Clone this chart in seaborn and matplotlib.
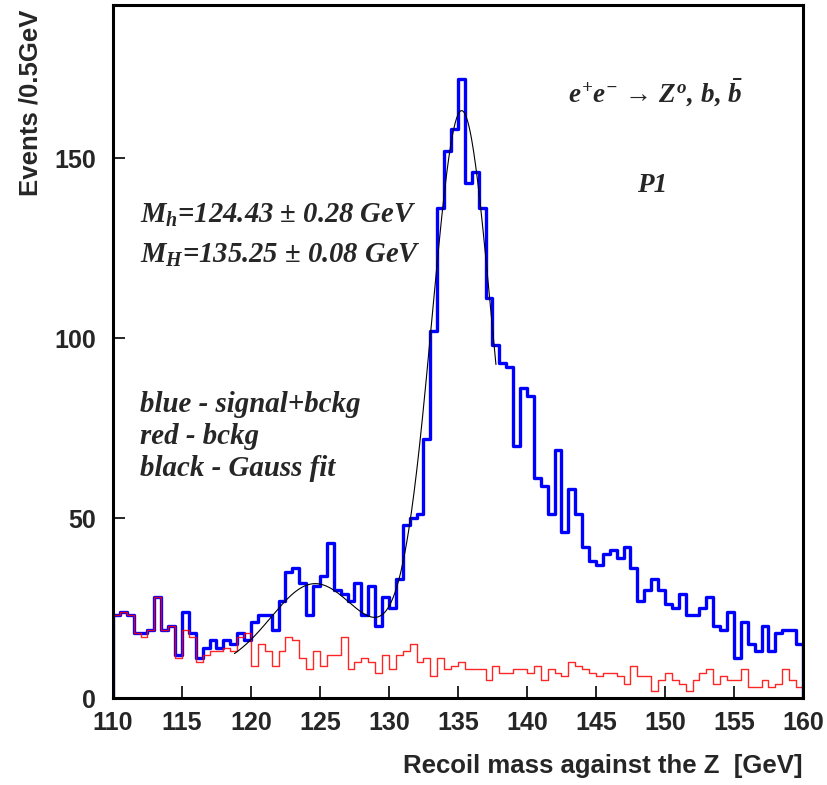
import numpy as np
import pandas as pd
import matplotlib
matplotlib.use("Agg")
import matplotlib.pyplot as plt
import seaborn as sns

# ---------------- data ----------------
bin_lo = 110.0
bin_hi = 160.0
bin_width = 0.5
n_bins = 100

signal_bckg = [23, 24, 23, 18, 18, 19, 28, 19, 20, 12,
               24, 18, 11, 14, 16, 14, 16, 15, 18, 16,
               21, 23, 23, 19, 27, 35, 36, 32, 23, 31,
               34, 43, 30, 29, 27, 32, 23, 31, 20, 28,
               25, 33, 48, 50, 51, 72, 102, 136, 152, 158,
               172, 143, 146, 136, 111, 98, 93, 92, 70, 86,
               84, 61, 59, 51, 69, 46, 58, 51, 42, 38,
               37, 40, 41, 39, 42, 36, 27, 30, 33, 30,
               26, 25, 29, 23, 23, 25, 28, 20, 19, 24,
               11, 21, 15, 13, 20, 13, 18, 19, 19, 15]

bckg = [23, 24, 23, 18, 17, 19, 28, 19, 20, 11,
        19, 17, 10, 12, 13, 13, 14, 13, 17, 18,
        9, 15, 13, 9, 13, 17, 16, 11, 8, 13,
        9, 12, 12, 17, 8, 10, 11, 10, 7, 12,
        8, 12, 13, 15, 10, 11, 6, 11, 8, 9,
        10, 8, 8, 8, 5, 9, 7, 7, 8, 8,
        7, 9, 5, 8, 7, 6, 10, 9, 8, 7,
        6, 7, 7, 6, 4, 9, 6, 6, 2, 5,
        7, 5, 4, 2, 5, 7, 8, 4, 6, 5,
        5, 8, 3, 3, 5, 3, 4, 8, 5, 3]

# Gauss fit (two Gaussians on a linear background)
fit_range = (118.8, 137.75)
m_h, sigma_h, amp_h = 124.43, 3.0, 20.0
m_H, sigma_H, amp_H = 135.25, 2.15, 146.0
bkg_const, bkg_slope, bkg_ref = 12.0, 0.5, 125.0

x_ticks = [110, 115, 120, 125, 130, 135, 140, 145, 150, 155, 160]
y_ticks = [0, 50, 100, 150]

# ---------------- style ----------------
sns.set_style("white")
plt.rcParams["font.family"] = ["Liberation Sans", "DejaVu Sans"]
plt.rcParams["mathtext.fontset"] = "custom"
plt.rcParams["mathtext.rm"] = "Liberation Serif:bold:italic"
plt.rcParams["mathtext.it"] = "Liberation Serif:bold:italic"
plt.rcParams["mathtext.bf"] = "Liberation Serif:bold:italic"
plt.rcParams["mathtext.sf"] = "Liberation Serif:bold:italic"

W, H = 828, 785
fig = plt.figure(figsize=(W / 100, H / 100), dpi=100)
ax = fig.add_axes([113 / W, 1 - 698 / H, (803 - 113) / W, (698 - 5) / H])

edges = bin_lo + bin_width * np.arange(n_bins + 1)
centers = edges[:-1] + bin_width / 2
df = pd.DataFrame({"mass": centers, "sb": signal_bckg, "b": bckg})

sns.histplot(data=df, x="mass", weights="sb", binwidth=bin_width,
             binrange=(bin_lo, bin_hi), element="step",
             fill=False, color="#0000ff", linewidth=2.4, ax=ax)
sns.histplot(data=df, x="mass", weights="b", binwidth=bin_width,
             binrange=(bin_lo, bin_hi), element="step",
             fill=False, color="#ff0000", linewidth=1.0, alpha=0.85, ax=ax)

# closing verticals at the histogram ends (ROOT style)
ax.vlines([edges[0], edges[-1]], 0, [signal_bckg[0], signal_bckg[-1]],
          color="#0000ff", linewidth=2.4)

xf = np.linspace(fit_range[0], fit_range[1], 400)
yf = (bkg_const + bkg_slope * (xf - bkg_ref)
      + amp_h * np.exp(-0.5 * ((xf - m_h) / sigma_h) ** 2)
      + amp_H * np.exp(-0.5 * ((xf - m_H) / sigma_H) ** 2))
sns.lineplot(x=xf, y=yf, color="black", linewidth=0.8, ax=ax)

ax.set_xlim(110, 160)
ax.set_ylim(0, 192.5)
ax.set_xticks(x_ticks)
ax.set_yticks(y_ticks)
ax.tick_params(axis="both", direction="in", length=8.5, width=1.4,
               labelsize=18, bottom=True, left=True, top=False, right=False)
ax.tick_params(axis="x", pad=9)
ax.tick_params(axis="y", pad=12)
for lab in ax.get_xticklabels() + ax.get_yticklabels():
    lab.set_fontweight("bold")
for s in ax.spines.values():
    s.set_linewidth(2.2)
    s.set_color("black")

ax.set_xlabel("Recoil mass against the Z  [GeV]", fontsize=18.5, fontweight="bold",
              loc="right")
ax.xaxis.set_label_coords(1.0, -(754 - 698) / 693)
ax.set_ylabel("Events /0.5GeV", fontsize=18.5, fontweight="bold", loc="top")
ax.yaxis.set_label_coords(-(113 - 43) / 690, (698 - 10) / 693)

serif = dict(family="Liberation Serif", fontweight="bold", fontstyle="italic")

def ftext(px, py, s, size, **kw):
    fig.text(px / W, 1 - py / H, s, fontsize=size, ha="left", va="baseline",
             **serif, **kw)

ftext(140, 223, r"$M_h$=124.43 ± 0.28 GeV", 20.6)
ftext(140, 263, r"$M_H$=135.25 ± 0.08 GeV", 20.6)
ftext(140, 412, "blue - signal+bckg", 20.8)
ftext(140, 444, "red - bckg", 20.8)
ftext(140, 476, "black - Gauss fit", 20.8)
ftext(568, 103, r"$e^{+}e^{-}$ → $Z^{o}$, $b$, $\bar{b}$", 19.5)
ftext(637, 192, "P1", 19.5)

fig.savefig("out.png", dpi=100)
